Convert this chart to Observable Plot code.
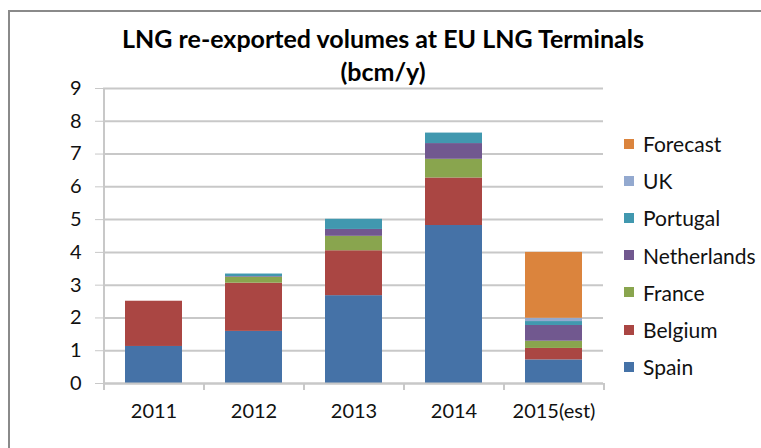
<!DOCTYPE html>
<html>
<head>
<meta charset="utf-8">
<script src="https://cdn.jsdelivr.net/npm/d3@7"></script>
<script src="https://cdn.jsdelivr.net/npm/@observablehq/plot@0.6"></script>
<style>
  html, body { margin: 0; padding: 0; background: #fff; }
  body { width: 761px; height: 448px; overflow: hidden; position: relative; font-family: Lato, "Open Sans", sans-serif; }
  #frame { position: absolute; left: 8px; top: 10px; width: 900px; height: 600px; border-left: 2px solid #8a8a8a; border-top: 2px solid #8a8a8a; pointer-events: none; }
  #title { position: absolute; left: 0; top: 22px; width: 766px; text-align: center; font-weight: bold; font-size: 25px; line-height: 33px; color: #000; z-index: 2; }
  #chart { position: absolute; left: 0; top: 60px; z-index: 1; }
  #legend { position: absolute; left: 624px; top: 125px; z-index: 2; }
  .item { display: flex; align-items: center; height: 37.2px; font-size: 21px; color: #111; }
  .sw { width: 10px; height: 10px; margin-right: 9px; }
</style>
</head>
<body>
<div id="frame"></div>
<div id="chart"></div>
<div id="title">LNG re-exported volumes at EU LNG Terminals<br>(bcm/y)</div>
<div id="legend"></div>
<script>
const years = ["2011", "2012", "2013", "2014", "2015(est)"];
const seriesNames = ["Spain", "Belgium", "France", "Netherlands", "Portugal", "UK", "Forecast"];
const seriesColors = ["#4572a7", "#aa4643", "#89a54e", "#71588f", "#4198af", "#93a9cf", "#db843d"];
const spain       = [1.13, 1.59, 2.68, 4.82, 0.72];
const belgium     = [1.38, 1.47, 1.37, 1.45, 0.35];
const france      = [0,    0.18, 0.44, 0.57, 0.22];
const netherlands = [0,    0.02, 0.21, 0.48, 0.48];
const portugal    = [0,    0.08, 0.31, 0.32, 0.12];
const uk          = [0,    0,    0,    0,    0.10];
const forecast    = [0,    0,    0,    0,    2.01];
const yTicks = [0, 1, 2, 3, 4, 5, 6, 7, 8, 9];

const seriesValues = [spain, belgium, france, netherlands, portugal, uk, forecast];
const data = [];
seriesNames.forEach((s, si) => {
  years.forEach((y, yi) => data.push({year: y, series: s, value: seriesValues[si][yi]}));
});

const chart = Plot.plot({
  width: 761,
  height: 388,
  marginTop: 28,
  marginBottom: 65,
  marginLeft: 103,
  marginRight: 158,
  style: {fontFamily: "Lato, 'Open Sans', sans-serif", fontSize: "20px", color: "#111", background: "transparent"},
  x: {domain: years, paddingInner: 0.43, paddingOuter: 0.215, label: null},
  y: {domain: [0, 9], ticks: yTicks, label: null},
  color: {domain: seriesNames, range: seriesColors},
  marks: [
    Plot.gridY(yTicks, {stroke: "#c8c8c8", strokeOpacity: 1, strokeWidth: 2}),
    Plot.barY(data, {x: "year", y: "value", fill: "series", order: seriesNames}),
    Plot.ruleX([0], {x: () => years[0], dx: -50, stroke: "#c8c8c8", strokeWidth: 2}),
    Plot.ruleY([0], {stroke: "#c8c8c8", strokeWidth: 2}),
    Plot.ruleX(years, {x: d => d, y1: 0, y2: 0, insetBottom: -7, dx: 50, stroke: "#c8c8c8", strokeWidth: 2}),
    Plot.ruleX([years[0]], {x: d => d, y1: 0, y2: 0, insetBottom: -7, dx: -50, stroke: "#c8c8c8", strokeWidth: 2}),
    Plot.axisY(yTicks, {tickSize: 8, tickPadding: 14, stroke: "#c8c8c8", fill: "#111", fontSize: 20}),
    Plot.axisX(years, {tickSize: 0, tickPadding: 20, fill: "#111", fontSize: 20})
  ]
});
document.getElementById("chart").appendChild(chart);

const legend = document.getElementById("legend");
seriesNames.slice().reverse().forEach((s) => {
  const i = seriesNames.indexOf(s);
  const item = document.createElement("div");
  item.className = "item";
  const sw = document.createElement("div");
  sw.className = "sw";
  sw.style.background = seriesColors[i];
  const t = document.createElement("span");
  t.textContent = s;
  item.appendChild(sw);
  item.appendChild(t);
  legend.appendChild(item);
});
</script>
</body>
</html>
